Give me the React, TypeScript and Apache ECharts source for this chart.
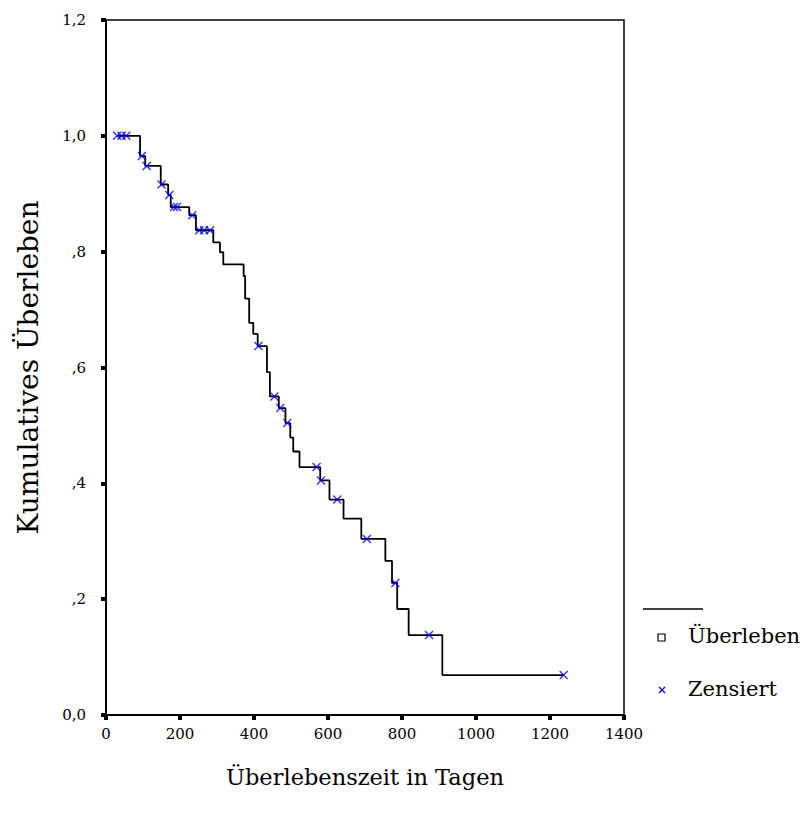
import React, { useEffect, useRef } from "react";
import * as echarts from "echarts";

// Kaplan-Meier curve: start of curve, times of drops and survival after each drop
const startTime = 30;
const startSurvival = 1.0;
const eventTimes = [92, 106, 148, 168, 175, 225, 243, 290, 308, 317, 372, 376, 387, 398, 410, 435, 443, 467, 485, 498, 506, 523, 579, 604, 642, 690, 755, 773, 787, 818, 909];
const survival = [0.965, 0.948, 0.916, 0.898, 0.877, 0.863, 0.837, 0.816, 0.799, 0.778, 0.758, 0.719, 0.677, 0.658, 0.637, 0.592, 0.55, 0.53, 0.504, 0.479, 0.455, 0.428, 0.405, 0.372, 0.339, 0.304, 0.266, 0.228, 0.183, 0.138, 0.069];
// censored observations
const censorTimes = [30, 42, 55, 97, 110, 150, 171, 184, 192, 233, 252, 265, 281, 412, 455, 471, 490, 569, 581, 625, 705, 782, 873, 1237];
const censorValues = [1, 1, 1, 0.965, 0.948, 0.916, 0.898, 0.877, 0.877, 0.863, 0.837, 0.837, 0.837, 0.637, 0.55, 0.53, 0.504, 0.428, 0.405, 0.372, 0.304, 0.228, 0.138, 0.069];
const endTime = 1237;
const endSurvival = 0.069;

const yTickLabels = ["0,0", ",2", ",4", ",6", ",8", "1,0", "1,2"];
const xTickLabels = ["0", "200", "400", "600", "800", "1000", "1200", "1400"];

const yTitle = "Kumulatives Überleben";
const xTitle = "Überlebenszeit in Tagen";
const legendSurvival = "Überleben";
const legendCensored = "Zensiert";

const FONT = "DejaVu Serif";

export default function App() {
  const ref = useRef<HTMLDivElement>(null);
  useEffect(() => {
    if (!ref.current) return;
    const chart = echarts.init(ref.current, null, { renderer: "svg" });
    const lineData: number[][] = [[startTime, startSurvival]];
    eventTimes.forEach((t, i) => lineData.push([t, survival[i]]));
    lineData.push([endTime, endSurvival]);
    const censorData = censorTimes.map((t, i) => [t, censorValues[i]]);

    chart.setOption({
      animation: false,
      backgroundColor: "#ffffff",
      grid: {
        left: 106,
        right: 178,
        top: 20,
        bottom: 110,
        show: true,
        borderColor: "#000",
        borderWidth: 1.5,
        backgroundColor: "transparent",
      },
      xAxis: {
        type: "value",
        min: 0,
        max: 1400,
        interval: 200,
        splitLine: { show: false },
        axisLine: { show: true, lineStyle: { color: "#000", width: 2 } },
        axisTick: { show: true, length: 5, lineStyle: { color: "#000", width: 4 } },
        axisLabel: {
          color: "#000",
          fontFamily: FONT,
          fontSize: 15,
          margin: 11,
          formatter: (v: number) => xTickLabels[Math.round(v / 200)] ?? "",
        },
        name: xTitle,
        nameLocation: "middle",
        nameGap: 50,
        nameTextStyle: { color: "#000", fontFamily: FONT, fontSize: 22.5 },
      },
      yAxis: {
        type: "value",
        min: 0,
        max: 1.2,
        interval: 0.2,
        splitLine: { show: false },
        axisLine: { show: true, lineStyle: { color: "#000", width: 2 } },
        axisTick: { show: true, length: 5, lineStyle: { color: "#000", width: 4 } },
        axisLabel: {
          color: "#000",
          fontFamily: FONT,
          fontSize: 15,
          margin: 20,
          formatter: (v: number) => yTickLabels[Math.round(v / 0.2)] ?? "",
        },
        name: yTitle,
        nameLocation: "middle",
        nameRotate: 90,
        nameGap: 64,
        nameTextStyle: { color: "#000", fontFamily: FONT, fontSize: 28 },
      },
      series: [
        {
          type: "line",
          step: "end",
          data: lineData,
          symbol: "none",
          lineStyle: { color: "#000", width: 1.8 },
          z: 2,
        },
        {
          type: "scatter",
          data: censorData,
          symbol: "path://M0,0L10,10M10,0L0,10",
          symbolSize: 8,
          itemStyle: { color: "none", borderColor: "#0000ff", borderWidth: 1.4 },
          z: 3,
        },
      ],
      graphic: [
        { type: "line", shape: { x1: 643, y1: 609, x2: 703, y2: 609 }, style: { stroke: "#000", lineWidth: 1.5 } },
        { type: "rect", shape: { x: 658, y: 634, width: 7, height: 7 }, style: { fill: "#fff", stroke: "#000", lineWidth: 1.2 } },
        { type: "text", left: 688, top: 625, style: { text: legendSurvival, font: `21px "${FONT}"`, fill: "#000" } },
        { type: "line", shape: { x1: 659, y1: 687, x2: 665, y2: 693 }, style: { stroke: "#0000ff", lineWidth: 1.2 } },
        { type: "line", shape: { x1: 665, y1: 687, x2: 659, y2: 693 }, style: { stroke: "#0000ff", lineWidth: 1.2 } },
        { type: "text", left: 688, top: 678, style: { text: legendCensored, font: `21px "${FONT}"`, fill: "#000" } },
      ],
    });
    return () => chart.dispose();
  }, []);
  return <div ref={ref} style={{ position: "fixed", left: 0, top: 0, width: 802, height: 825 }} />;
}
